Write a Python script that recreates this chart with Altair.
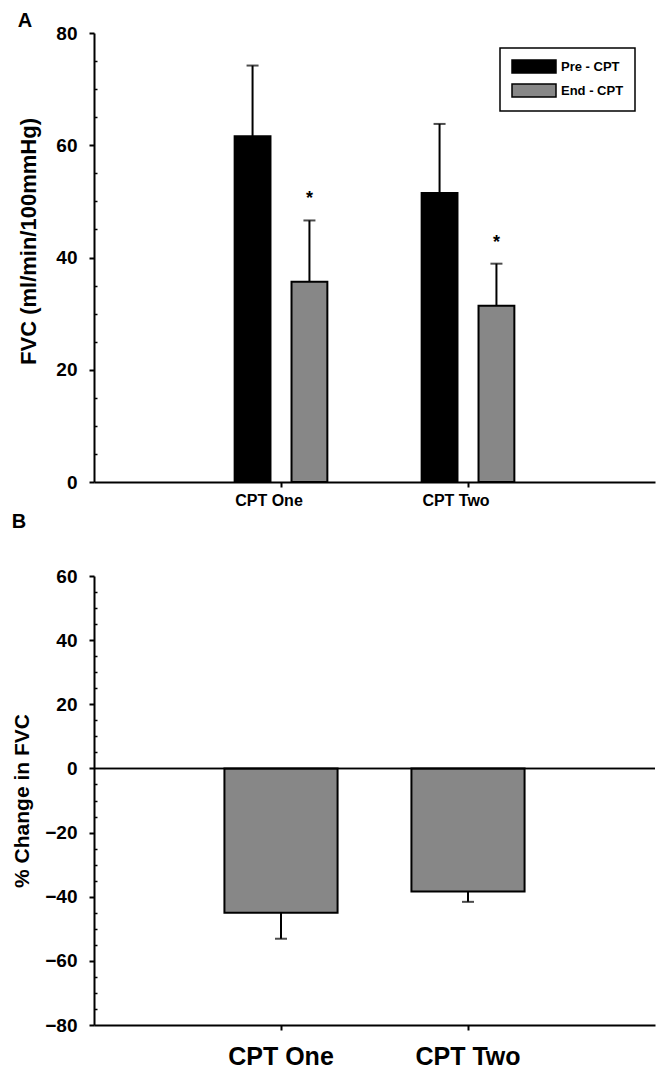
import altair as alt
import pandas as pd

FONT = "Liberation Sans"

# ---------------- data ----------------
categories = ["CPT One", "CPT Two"]
series = ["Pre - CPT", "End - CPT"]
series_colors = ["#000000", "#878787"]

fvc_pre = [61.6, 51.5]
fvc_pre_sem = [12.6, 12.3]
fvc_end = [35.7, 31.4]
fvc_end_sem = [10.9, 7.5]
end_marks = ["*", "*"]

pct_change = [-45.0, -38.4]
pct_change_sem = [8.1, 3.2]

fvc_major_ticks = [0, 20, 40, 60, 80]
fvc_minor_ticks = [5, 10, 15, 25, 30, 35, 45, 50, 55, 65, 70, 75]
pct_major_ticks = [-80, -60, -40, -20, 0, 20, 40, 60]
pct_minor_ticks = [-75, -70, -65, -55, -50, -45, -35, -30, -25, -15, -10, -5,
                   5, 10, 15, 25, 30, 35, 45, 50, 55]

# ---------------- tables ----------------
top_rows = []
for i, c in enumerate(categories):
    top_rows.append({"cat": c, "series": series[0], "value": fvc_pre[i],
                     "upper": fvc_pre[i] + fvc_pre_sem[i], "sig": ""})
    top_rows.append({"cat": c, "series": series[1], "value": fvc_end[i],
                     "upper": fvc_end[i] + fvc_end_sem[i], "sig": end_marks[i]})
top_df = pd.DataFrame(top_rows)

bot_df = pd.DataFrame({
    "cat": categories,
    "value": pct_change,
    "lower": [v - e for v, e in zip(pct_change, pct_change_sem)],
})

# ---------------- panel A ----------------
fvc_scale = alt.Scale(domain=[0, 80], nice=False)
x_top = alt.X("cat:N", sort=categories, title=None,
              scale=alt.Scale(domain=categories, paddingInner=0.2, paddingOuter=0.6),
              axis=alt.Axis(labelAngle=0, labelFontSize=16, labelPadding=5,
                            tickSize=5, labelOffset=-12))
xo_top = alt.XOffset("series:N", sort=series,
                     scale=alt.Scale(domain=series, paddingInner=0.37, paddingOuter=0.5))
y_title_top = "FVC (ml/min/100mmHg)"
y_top_axis = alt.Axis(values=fvc_major_ticks, tickSize=5, labelFontSize=19,
                      labelPadding=12, titleFontSize=22, titlePadding=15, titleY=208)

base_top = alt.Chart(top_df)
bars_top = base_top.mark_bar(stroke="black", strokeWidth=2).encode(
    x=x_top, xOffset=xo_top,
    y=alt.Y("value:Q", scale=fvc_scale, title=y_title_top, axis=y_top_axis),
    color=alt.Color("series:N", sort=series,
                    scale=alt.Scale(domain=series, range=series_colors),
                    legend=alt.Legend(title=None, orient="none", legendX=406, legendY=15,
                                      direction="vertical", strokeColor="black",
                                      fillColor="white", padding=11,
                                      symbolType="M-1,-1H5.77V1H-1Z", symbolSize=169,
                                      symbolStrokeColor="black", symbolStrokeWidth=1.5,
                                      symbolOpacity=1, labelFont=FONT, labelFontSize=13,
                                      labelFontWeight="bold", labelColor="black",
                                      labelOffset=35, rowPadding=5)),
)
err_top = base_top.mark_rule(color="black", strokeWidth=2).encode(
    x=x_top, xOffset=xo_top,
    y=alt.Y("value:Q", scale=fvc_scale, title=y_title_top, axis=y_top_axis),
    y2="upper:Q",
)
cap_top = base_top.mark_tick(color="black", thickness=2, size=12).encode(
    x=x_top, xOffset=xo_top,
    y=alt.Y("upper:Q", scale=fvc_scale, title=y_title_top, axis=y_top_axis),
)
star_top = base_top.transform_filter("datum.sig != ''").mark_text(
    font=FONT, fontSize=18, fontWeight="bold", color="black", dy=-16, baseline="alphabetic"
).encode(
    x=x_top, xOffset=xo_top,
    y=alt.Y("upper:Q", scale=fvc_scale, title=y_title_top, axis=y_top_axis),
    text="sig:N",
)
minor_top = base_top.mark_point(opacity=0).encode(
    y=alt.Y("value:Q", scale=fvc_scale, title=None,
            axis=alt.Axis(orient="left", values=fvc_minor_ticks, labels=False,
                          domain=False, tickSize=3, tickWidth=1.5, offset=-3)),
)
panel_a = alt.layer(
    alt.layer(bars_top, err_top, cap_top, star_top), minor_top
).resolve_scale(y="independent").properties(
    width=561, height=449,
    title=alt.TitleParams("A", anchor="start", frame="bounds", fontSize=20,
                          font=FONT, fontWeight="bold", color="black", offset=-7),
)

# ---------------- panel B ----------------
pct_scale = alt.Scale(domain=[-80, 60], nice=False)
x_bot = alt.X("cat:N", sort=categories, title=None,
              scale=alt.Scale(domain=categories, paddingInner=0.395, paddingOuter=0.6975),
              axis=alt.Axis(labelAngle=0, labelFontSize=25, labelPadding=14, tickSize=5))
y_title_bot = "% Change in FVC"
y_bot_axis = alt.Axis(values=pct_major_ticks, tickSize=5, labelFontSize=19,
                      labelPadding=12, titleFontSize=21, titlePadding=12)

base_bot = alt.Chart(bot_df)
bars_bot = base_bot.mark_bar(fill="#878787", stroke="black", strokeWidth=2).encode(
    x=x_bot,
    y=alt.Y("value:Q", scale=pct_scale, title=y_title_bot, axis=y_bot_axis),
)
err_bot = base_bot.mark_rule(color="black", strokeWidth=2).encode(
    x=x_bot,
    y=alt.Y("value:Q", scale=pct_scale, title=y_title_bot, axis=y_bot_axis),
    y2="lower:Q",
)
cap_bot = base_bot.mark_tick(color="black", thickness=2, size=12).encode(
    x=x_bot,
    y=alt.Y("lower:Q", scale=pct_scale, title=y_title_bot, axis=y_bot_axis),
)
zero_bot = base_bot.mark_rule(color="black", strokeWidth=1.5).encode(
    y=alt.Y(datum=0, type="quantitative", scale=pct_scale, title=y_title_bot, axis=y_bot_axis),
)
minor_bot = base_bot.mark_point(opacity=0).encode(
    y=alt.Y("value:Q", scale=pct_scale, title=None,
            axis=alt.Axis(orient="left", values=pct_minor_ticks, labels=False,
                          domain=False, tickSize=3, tickWidth=1.5, offset=-3)),
)
panel_b = alt.layer(
    alt.layer(bars_bot, err_bot, cap_bot, zero_bot), minor_bot
).resolve_scale(y="independent").properties(
    width=561, height=449,
    title=alt.TitleParams("B", anchor="start", frame="bounds", fontSize=20,
                          font=FONT, fontWeight="bold", color="black", offset=35),
)

chart = alt.vconcat(panel_a, panel_b, spacing=4).properties(
    padding={"left": 3, "top": 3, "right": 0, "bottom": 0}
).configure_view(strokeWidth=0).configure_axis(
    domainColor="black", domainWidth=2, tickColor="black", tickWidth=2,
    labelColor="black", labelFont=FONT, labelFontWeight="bold",
    titleFont=FONT, titleFontWeight="bold", titleColor="black", grid=False,
).configure_legend(strokeWidth=1.5)

chart.save("out.html", embed_options={"renderer": "svg", "actions": False})
